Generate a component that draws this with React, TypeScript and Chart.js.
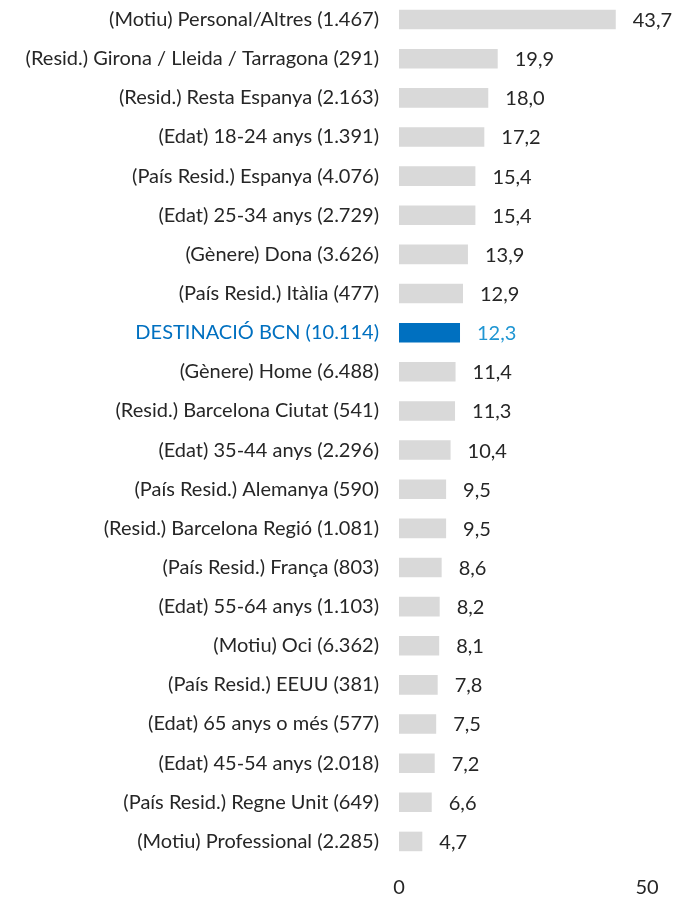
import React, { useEffect, useRef } from "react";
import { Chart, registerables } from "chart.js";

Chart.register(...registerables);

const categories = [
  "(Motiu) Personal/Altres (1.467)",
  "(Resid.) Girona / Lleida / Tarragona (291)",
  "(Resid.) Resta Espanya (2.163)",
  "(Edat) 18-24 anys (1.391)",
  "(País Resid.) Espanya (4.076)",
  "(Edat) 25-34 anys (2.729)",
  "(Gènere) Dona (3.626)",
  "(País Resid.) Itàlia (477)",
  "DESTINACIÓ BCN (10.114)",
  "(Gènere) Home (6.488)",
  "(Resid.) Barcelona Ciutat (541)",
  "(Edat) 35-44 anys (2.296)",
  "(País Resid.) Alemanya (590)",
  "(Resid.) Barcelona Regió (1.081)",
  "(País Resid.) França (803)",
  "(Edat) 55-64 anys (1.103)",
  "(Motiu) Oci (6.362)",
  "(País Resid.) EEUU (381)",
  "(Edat) 65 anys o més (577)",
  "(Edat) 45-54 anys (2.018)",
  "(País Resid.) Regne Unit (649)",
  "(Motiu) Professional (2.285)",
];

const values = [
  43.7, 19.9, 18.0, 17.2, 15.4, 15.4, 13.9, 12.9, 12.3, 11.4, 11.3, 10.4, 9.5,
  9.5, 8.6, 8.2, 8.1, 7.8, 7.5, 7.2, 6.6, 4.7,
];

const highlightLabel = "DESTINACIÓ BCN (10.114)";
const xTicks = [0, 50];

const GRAY = "#d9d9d9";
const BLUE = "#0070c0";
const BLUE_TEXT = "#1f96d3";
const TEXT = "#262626";
const FONT = "Lato, 'Open Sans', sans-serif";
const FONT_SIZE = 20;

export default function App() {
  const ref = useRef<HTMLCanvasElement | null>(null);

  useEffect(() => {
    document.body.style.margin = "0";
    const canvas = ref.current;
    if (!canvas) return;

    const valueLabels = {
      id: "valueLabels",
      afterDatasetsDraw(chart: any) {
        const ctx = chart.ctx;
        const meta = chart.getDatasetMeta(0);
        ctx.save();
        ctx.font = `${FONT_SIZE}px ${FONT}`;
        ctx.textAlign = "left";
        ctx.textBaseline = "middle";
        meta.data.forEach((bar: any, i: number) => {
          const isHi = categories[i] === highlightLabel;
          ctx.fillStyle = isHi ? BLUE_TEXT : TEXT;
          const txt = values[i].toFixed(1).replace(".", ",");
          ctx.fillText(txt, bar.x + 17, bar.y + 1);
        });
        ctx.restore();
      },
    };

    const chart = new Chart(canvas, {
      type: "bar",
      data: {
        labels: categories,
        datasets: [
          {
            data: values,
            backgroundColor: categories.map((c) =>
              c === highlightLabel ? BLUE : GRAY
            ),
            borderWidth: 0,
            barPercentage: 0.5,
            categoryPercentage: 1,
          },
        ],
      },
      options: {
        indexAxis: "y",
        animation: false,
        responsive: false,
        maintainAspectRatio: false,
        layout: {
          autoPadding: false,
          padding: { left: 0, right: 27, top: -1, bottom: 0 },
        },
        plugins: {
          legend: { display: false },
          tooltip: { enabled: false },
        },
        scales: {
          y: {
            grid: { display: false, drawTicks: false },
            border: { display: false },
            ticks: {
              padding: 20,
              font: { size: FONT_SIZE, family: FONT },
              color: (ctx: any) =>
                categories[ctx.index] === highlightLabel ? BLUE : TEXT,
              autoSkip: false,
            },
            afterFit: (scale: any) => {
              scale.width = 399;
              scale.paddingTop = 0;
              scale.paddingBottom = 0;
            },
          },
          x: {
            min: 0,
            max: 50,
            grid: { display: false, drawTicks: false },
            border: { display: false },
            afterBuildTicks: (scale: any) => {
              scale.ticks = xTicks.map((v) => ({ value: v }));
            },
            ticks: {
              padding: 15,
              font: { size: FONT_SIZE, family: FONT },
              color: TEXT,
              maxRotation: 0,
            },
            afterFit: (scale: any) => {
              scale.height = 41;
              scale.paddingLeft = 0;
              scale.paddingRight = 0;
            },
          },
        },
      },
      plugins: [valueLabels],
    });

    return () => chart.destroy();
  }, []);

  return (
    <div style={{ width: 674, height: 902 }}>
      <canvas ref={ref} width={674} height={902} style={{ display: "block" }} />
    </div>
  );
}
